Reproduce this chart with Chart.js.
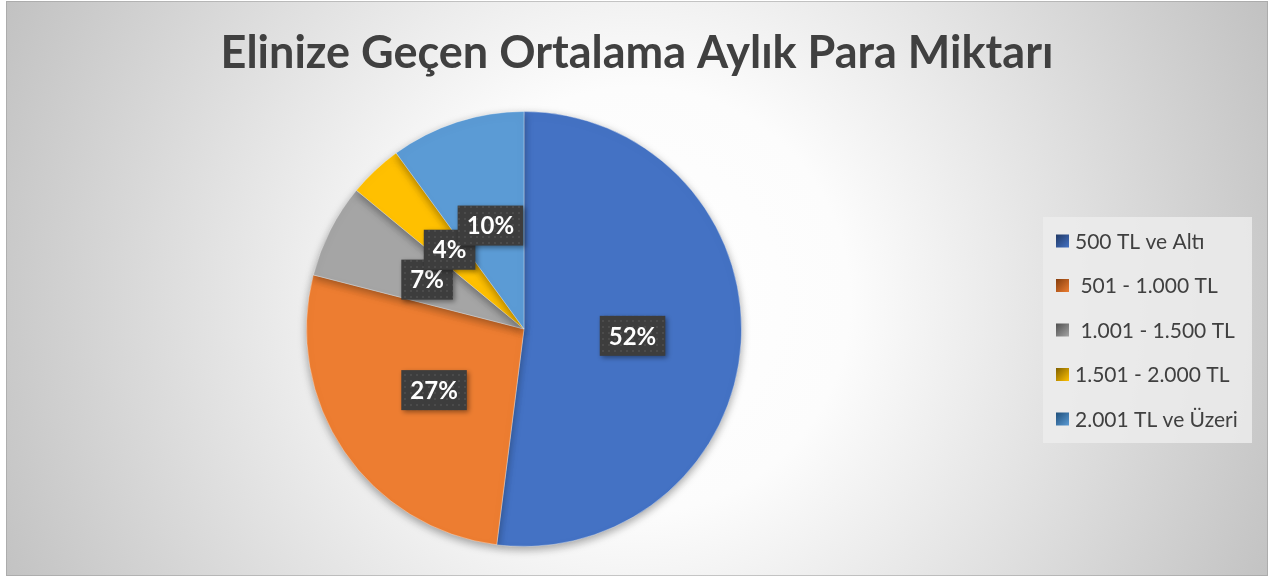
<!DOCTYPE html>
<html>
<head>
<meta charset="utf-8">
<script src="https://cdn.jsdelivr.net/npm/chart.js@4.4.1/dist/chart.umd.min.js"></script>
<style>
  html, body { margin: 0; padding: 0; background: #ffffff; }
  #wrap { width: 1274px; height: 579px; position: relative; }
</style>
</head>
<body>
<div id="wrap"><canvas id="c" width="1274" height="579"></canvas></div>
<script>
const titleText = 'Elinize Geçen Ortalama Aylık Para Miktarı';
const categories = ['500 TL ve Altı', ' 501 - 1.000 TL', ' 1.001 - 1.500 TL', '1.501 - 2.000 TL', '2.001 TL ve Üzeri'];
const percentages = [52, 27, 7, 4, 10];
const sliceColors = ['#4472C4', '#ED7D31', '#A5A5A5', '#FFC000', '#5B9BD5'];
const legendDark = ['#203864', '#843C0C', '#4F4F4F', '#7F6000', '#1F4E79'];
const legendLight = ['#4472C4', '#ED7D31', '#A5A5A5', '#FFC000', '#5B9BD5'];

function makeDotPattern(ctx) {
  const p = document.createElement('canvas');
  p.width = 6; p.height = 6;
  const pc = p.getContext('2d');
  pc.fillStyle = '#3d3d3d';
  pc.fillRect(0, 0, 6, 6);
  pc.fillStyle = '#4b4b4b';
  pc.fillRect(2, 2, 2, 2);
  return ctx.createPattern(p, 'repeat');
}

const decorPlugin = {
  id: 'decorPlugin',
  beforeDraw(chart) {
    const ctx = chart.ctx;
    ctx.save();
    ctx.fillStyle = '#ffffff';
    ctx.fillRect(0, 0, chart.width, chart.height);
    const g = ctx.createRadialGradient(637, 300, 0, 637, 300, 710);
    g.addColorStop(0, '#ffffff');
    g.addColorStop(0.3, '#fcfcfc');
    g.addColorStop(1, '#c0c0c0');
    ctx.fillStyle = g;
    ctx.fillRect(6, 1, 1262, 575);
    ctx.strokeStyle = 'rgba(150,150,150,0.5)';
    ctx.lineWidth = 1;
    ctx.strokeRect(6.5, 1.5, 1261, 574);

    // title
    ctx.fillStyle = '#404040';
    ctx.font = 'bold 45px Lato';
    ctx.textAlign = 'center';
    ctx.textBaseline = 'middle';
    ctx.fillText(titleText, 637, 53);

    // legend
    ctx.fillStyle = 'rgba(236,236,236,0.85)';
    ctx.fillRect(1043, 217, 209, 226);
    ctx.font = '21px Lato';
    ctx.textAlign = 'left';
    ctx.textBaseline = 'middle';
    categories.forEach((label, i) => {
      const cy = 241 + i * 44.5;
      const x0 = 1056, y0 = cy - 6.5;
      const lg = ctx.createLinearGradient(x0, y0, x0 + 13, y0 + 13);
      lg.addColorStop(0, legendDark[i]);
      lg.addColorStop(1, legendLight[i]);
      ctx.fillStyle = lg;
      ctx.fillRect(x0, y0, 13, 13);
      ctx.fillStyle = '#404040';
      ctx.fillText(label, 1075, cy + 1);
    });
    ctx.restore();
  },
  beforeDatasetsDraw(chart) {
    const ctx = chart.ctx;
    ctx.save();
    ctx.shadowColor = 'rgba(0,0,0,0.35)';
    ctx.shadowBlur = 9;
    ctx.shadowOffsetX = 0;
    ctx.shadowOffsetY = 3;
  },
  afterDatasetsDraw(chart) {
    chart.ctx.restore();
    const ctx = chart.ctx;
    const meta = chart.getDatasetMeta(0);
    const pattern = makeDotPattern(ctx);
    ctx.save();
    ctx.font = 'bold 24px Lato';
    ctx.textAlign = 'center';
    ctx.textBaseline = 'middle';
    meta.data.forEach((arc, i) => {
      const pt = arc.getCenterPoint();
      const txt = percentages[i] + '%';
      const w = ctx.measureText(txt).width + 18;
      const h = 40;
      ctx.save();
      ctx.shadowColor = 'rgba(0,0,0,0.4)';
      ctx.shadowBlur = 5;
      ctx.shadowOffsetX = 2;
      ctx.shadowOffsetY = 2;
      ctx.fillStyle = pattern;
      ctx.fillRect(pt.x - w / 2, pt.y - h / 2, w, h);
      ctx.restore();
      ctx.fillStyle = '#ffffff';
      ctx.fillText(txt, pt.x, pt.y + 1);
    });
    ctx.restore();
  }
};

const chart = new Chart(document.getElementById('c'), {
  type: 'pie',
  data: {
    labels: categories,
    datasets: [{
      data: percentages,
      backgroundColor: sliceColors,
      borderColor: 'rgba(255,255,255,0.35)',
      borderWidth: 1
    }]
  },
  plugins: [decorPlugin],
  options: {
    responsive: false,
    animation: false,
    rotation: 0,
    layout: { padding: { top: 111, bottom: 32, left: 0, right: 226 } },
    plugins: {
      tooltip: { enabled: false },
      title: { display: false },
      legend: { display: false }
    }
  }
});
</script>
</body>
</html>
